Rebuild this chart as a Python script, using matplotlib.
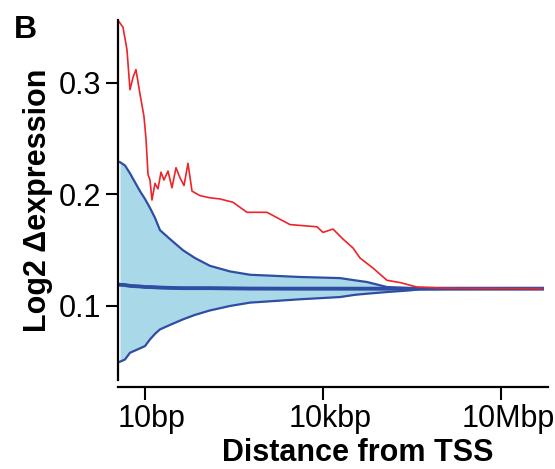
import matplotlib
matplotlib.use("Agg")
import matplotlib.pyplot as plt
import matplotlib.transforms as mtransforms
import numpy as np

plt.rcParams["font.family"] = ["Liberation Sans", "DejaVu Sans"]
plt.rcParams["font.size"] = 22

# 红线：log10(距离) 与 Δexpression
red_logx = [0.562, 0.629, 0.696, 0.747, 0.798, 0.848, 0.916, 0.983, 1.017, 1.051,
            1.084, 1.118, 1.169, 1.219, 1.270, 1.320, 1.388, 1.455, 1.523, 1.590,
            1.658, 1.725, 1.793, 1.927, 2.096, 2.265, 2.484, 2.720, 3.057, 3.445,
            3.901, 4.002, 4.170, 4.339, 4.508, 4.626, 4.845, 5.081, 5.300, 5.587,
            6.025, 6.430, 7.695]
red_y = [0.355, 0.350, 0.330, 0.294, 0.305, 0.312, 0.290, 0.270, 0.250, 0.218,
         0.213, 0.195, 0.210, 0.205, 0.220, 0.213, 0.221, 0.206, 0.224, 0.215,
         0.208, 0.228, 0.203, 0.199, 0.197, 0.196, 0.193, 0.184, 0.184, 0.173,
         0.171, 0.166, 0.169, 0.160, 0.152, 0.143, 0.134, 0.123, 0.121, 0.117,
         0.116, 0.1158, 0.1155]

# 蓝色包络
band_logx = [0.578, 0.663, 0.747, 0.831, 0.916, 1.000, 1.084, 1.169, 1.253,
             1.422, 1.641, 1.843, 2.096, 2.433, 2.771, 3.614, 4.288, 4.541,
             4.744, 5.081, 5.469, 5.637, 6.143, 6.987, 7.695]
band_upper = [0.229, 0.226, 0.219, 0.211, 0.203, 0.196, 0.188, 0.179, 0.168,
              0.160, 0.150, 0.143, 0.136, 0.131, 0.128, 0.126, 0.125, 0.123,
              0.1215, 0.117, 0.116, 0.1157, 0.1155, 0.1155, 0.1155]
band_lower = [0.050, 0.052, 0.058, 0.060, 0.062, 0.064, 0.070, 0.075, 0.079,
              0.083, 0.088, 0.092, 0.096, 0.100, 0.103, 0.106, 0.108, 0.110,
              0.111, 0.1125, 0.114, 0.115, 0.1153, 0.1155, 0.1155]
band_mid = [0.119, 0.1188, 0.118, 0.1178, 0.1175, 0.117, 0.117, 0.1168, 0.1165,
            0.1162, 0.116, 0.116, 0.116, 0.1158, 0.1156, 0.1155, 0.1155, 0.1155,
            0.1155, 0.1155, 0.1155, 0.1155, 0.1155, 0.1155, 0.1155]

xticks = [10, 1e4, 1e7]
xticklabels = ["10bp", "10kbp", "10Mbp"]
yticks = [0.1, 0.2, 0.3]

red_x = 10 ** np.array(red_logx)
band_x = 10 ** np.array(band_logx)

fig = plt.figure(figsize=(5.55, 4.69), dpi=100)
ax = fig.add_axes([118 / 555, 89 / 469, 430 / 555, 360 / 469])

blue = "#2f4ea3"
ax.fill_between(band_x, band_lower, band_upper, color="#a9d8e8", lw=0)
ax.plot(band_x, band_upper, color=blue, lw=1.6)
ax.plot(band_x, band_lower, color=blue, lw=1.6)
ax.plot(band_x, band_mid, color=blue, lw=2.8)
ax.plot(red_x, red_y, color="#ee2428", lw=1.2)

ax.set_xscale("log")
ax.set_xlim(10 ** 0.545, 10 ** 7.796)
ax.set_ylim(0.0336, 0.3565)
ax.set_xticks(xticks)
ax.set_xticklabels(xticklabels)
ax.xaxis.set_minor_locator(matplotlib.ticker.NullLocator())
ax.set_yticks(yticks)
ax.set_yticklabels(["0.1", "0.2", "0.3"])

for s in ["top", "right"]:
    ax.spines[s].set_visible(False)
ax.spines["bottom"].set_position(("outward", 5))
ax.spines["left"].set_linewidth(1.6)
ax.spines["bottom"].set_linewidth(1.6)
ax.tick_params(length=9, width=1.5, pad=3)

# x 刻度标签略微右移（要在 tick_params 之后）
shift = mtransforms.ScaledTranslation(7 / 100, 0, fig.dpi_scale_trans)
for lab in ax.get_xticklabels():
    lab.set_transform(lab.get_transform() + shift)

ax.set_xlabel("Distance from TSS", fontweight="bold", labelpad=4)
ax.xaxis.set_label_coords(0.558, -0.16)
ax.set_ylabel("Log2 \u0394expression", fontweight="bold", labelpad=4)
fig.text(14 / 555, 1 - 30 / 469, "B", fontweight="bold", fontsize=23,
         va="center", ha="left")

fig.savefig("out.png", dpi=100)
